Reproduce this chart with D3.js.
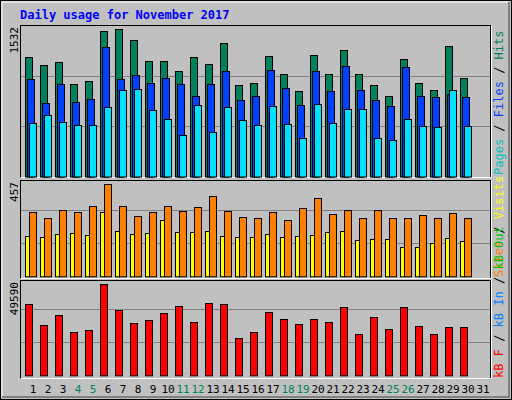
<!DOCTYPE html><html><head><script src="https://cdn.jsdelivr.net/npm/d3@7"></script>
<style>body{margin:0;background:#fff}</style></head><body><svg id="c" width="512" height="400"></svg>
<script>
const days = d3.range(1,32);
const weekends = [4,5,11,12,18,19,25,26];
const hits  = [1211,1130,1160,937,967,1475,1495,1383,1170,1170,1069,1211,1140,1353,927,947,1221,1038,866,1231,1038,1282,1038,927,815,1190,947,876,1322,998];
const files = [988,744,937,754,785,1312,988,1028,947,998,937,815,937,1069,774,815,1079,896,724,1069,866,1119,876,774,714,1109,815,805,835,805];
const pages = [541,622,551,521,521,703,876,886,673,582,419,724,450,703,572,521,714,531,389,734,541,683,683,389,369,582,511,501,876,511];
const sites = [295,268,305,295,323,425,323,277,295,323,300,319,369,300,272,268,295,259,314,360,286,305,268,305,268,268,282,268,291,268];
const visits= [185,180,194,199,189,295,208,194,199,259,203,203,208,185,180,180,194,180,185,189,203,208,166,171,171,134,134,152,175,162];
const kbytes= [35571,25050,30060,21543,22545,45591,32565,26052,27555,31062,34569,26553,36072,35571,18537,21543,31563,28056,25551,28056,26553,34068,20541,29058,23046,34068,24549,20541,24048,24048];
const maxHits=1532, maxSites=457, maxKB=49590;

const svg=d3.select('#c');
svg.append('rect').attr('x',0.5).attr('y',0.5).attr('width',511).attr('height',399).attr('fill','#C0C0C0').attr('stroke','#000');
svg.append('path').attr('d','M2,398V2H510').attr('stroke','#fff').attr('fill','none');
svg.append('path').attr('d','M2,397H509V2').attr('stroke','#808080').attr('stroke-width',2).attr('fill','none');
svg.append('text').attr('x',20).attr('y',19).text('Daily usage for November 2017').attr('fill','#0000FF').attr('font-family','DejaVu Sans Mono').attr('font-weight','bold').attr('font-size',12);

const x=d3.scaleLinear().domain([1,2]).range([25,40]);
const mono='DejaVu Sans Mono';
function panel(y0,y1,bottom,top,max,label){
  svg.append('rect').attr('x',20.5).attr('y',y0+0.5).attr('width',470).attr('height',y1-y0).attr('fill','none').attr('stroke','#000');
  svg.append('path').attr('d',`M20.5,${y1+0.5}H491.5V${y0+0.5}`).attr('stroke','#fff').attr('fill','none');
  const y=d3.scaleLinear().domain([0,max]).range([bottom,top]);
  [max/3,2*max/3].forEach(v=>svg.append('line').attr('x1',21).attr('x2',490).attr('y1',Math.round(y(v))+0.5).attr('y2',Math.round(y(v))+0.5).attr('stroke','#808080'));
  svg.append('text').attr('transform',`translate(18,${y0+2}) rotate(-90)`).attr('text-anchor','end').attr('font-family',mono).attr('font-size',11).text(label);
  return y;
}
function bars(data,y,off,w,col){
  svg.append('g').selectAll('rect').data(data).join('rect')
   .attr('x',(d,i)=>x(i+1)+off+0.5).attr('y',d=>Math.round(y(d))+0.5)
   .attr('width',w).attr('height',d=>y(0)-Math.round(y(d)))
   .attr('fill',col).attr('stroke','#000');
}
const y1=panel(25,177,176.5,25.5,maxHits,'1532');
bars(hits,y1,0,7,'#00805C');bars(files,y1,2,7,'#0040FF');bars(pages,y1,4,7,'#00E0FF');
const y2=panel(180,278,276.3,177.3,maxSites,'457');
bars(visits,y2,0,4,'#FFFF00');bars(sites,y2,4,7,'#FF8000');
const y3=panel(280,378,375.3,276.3,maxKB,'49590');
bars(kbytes,y3,0,7,'#FF0000');

svg.append('g').selectAll('text').data(days).join('text')
 .attr('x',d=>x(d)+8).attr('y',393).attr('text-anchor','middle').attr('font-family',mono).attr('font-size',11)
 .attr('fill',d=>weekends.includes(d)?'#00805C':'#000').text(d=>d);

function vlabel(yStart,parts){
  const t=svg.append('text').attr('transform',`translate(503,${yStart}) rotate(-90)`).attr('font-family',mono).attr('font-size',12);
  parts.forEach(([s,c])=>t.append('tspan').attr('fill',c).text(s));
}
vlabel(175,[['Pages','#00C0C0'],[' / ','#000'],['Files','#0040FF'],[' / ','#000'],['Hits','#00805C']]);
vlabel(277,[['Sites','#FF8000'],[' / ','#000'],['Visits','#FFFF00']]);
vlabel(378,[['kB F','#FF0000'],[' / ','#000'],['kB In','#0080FF'],[' / ','#000'],['kB Out','#00C000']]);
</script></body></html>
